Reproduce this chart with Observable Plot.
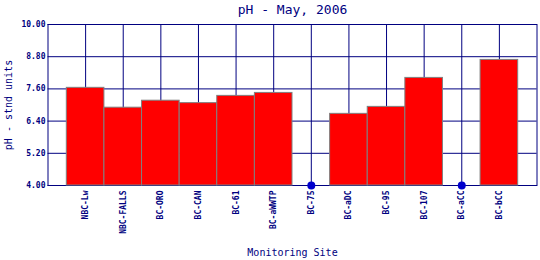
<!DOCTYPE html>
<html><head><meta charset="utf-8">
<script src="https://cdn.jsdelivr.net/npm/d3@7"></script>
<script src="https://cdn.jsdelivr.net/npm/@observablehq/plot@0.6"></script>
<style>body{margin:0;background:#fff}</style>
</head><body><div id="chart"></div>
<script>
const sites = ["NBC-Lw","NBC-FALLS","BC-ORO","BC-CAN","BC-61","BC-aWWTP","BC-75","BC-aDC","BC-95","BC-107","BC-aCC","BC-bCC"];
const phValues = [7.64, 6.90, 7.16, 7.07, 7.34, 7.45, null, 6.67, 6.93, 8.01, null, 8.68];
const yTicks = [4.00, 5.20, 6.40, 7.60, 8.80, 10.00];
const title = "pH - May, 2006";
const xLabel = "Monitoring Site";
const yLabel = "pH - stnd units";

const navy = "#000080";
const mono = "'DejaVu Sans Mono', 'Liberation Mono', monospace";
const rows = sites.map((site, i) => ({site, i, value: phValues[i]}));
const yMin = yTicks[0];
const idx = d3.range(sites.length);

const chart = Plot.plot({
  width: 540,
  height: 260,
  marginTop: 24,
  marginBottom: 75,
  marginLeft: 47.5,
  marginRight: 3.5,
  style: {fontFamily: mono, background: "#fff", color: navy},
  x: {type: "linear", domain: [-1, sites.length], axis: null},
  y: {domain: [yMin, yTicks[yTicks.length - 1]], axis: null},
  marks: [
    Plot.gridY(yTicks, {stroke: navy, strokeOpacity: 1}),
    Plot.gridX(idx, {stroke: navy, strokeOpacity: 1}),
    Plot.frame({stroke: navy}),
    Plot.rectY(rows.filter(d => d.value != null), {
      x1: d => d.i - 0.5, x2: d => d.i + 0.5, y1: () => yMin, y2: "value",
      fill: "#ff0000", stroke: "#808080", strokeWidth: 1
    }),
    Plot.dot(rows.filter(d => d.value == null), {x: "i", y: () => yMin, r: 4, fill: "#0000cd", stroke: "none"}),
    Plot.axisY(yTicks, {tickFormat: d => d.toFixed(2), tickSize: 0, tickPadding: 2.5, fontSize: 8, fontWeight: "bold", fontFamily: mono, color: navy, label: null}),
    Plot.axisX(idx, {tickFormat: i => sites[i], tickRotate: -90, tickSize: 0, tickPadding: 5, fontSize: 8, fontWeight: "bold", fontFamily: mono, color: navy, label: null}),
    Plot.text([title], {frameAnchor: "top", lineAnchor: "middle", dy: -15, fontSize: 13, fontFamily: mono, fill: navy}),
    Plot.text([xLabel], {frameAnchor: "bottom", lineAnchor: "middle", dy: 67, fontSize: 10, fontFamily: mono, fill: navy}),
    Plot.text([yLabel], {frameAnchor: "left", textAnchor: "middle", lineAnchor: "middle", rotate: -90, dx: -39.5, fontSize: 10, fontFamily: mono, fill: navy})
  ]
});
document.getElementById("chart").appendChild(chart);
</script>
</body></html>
